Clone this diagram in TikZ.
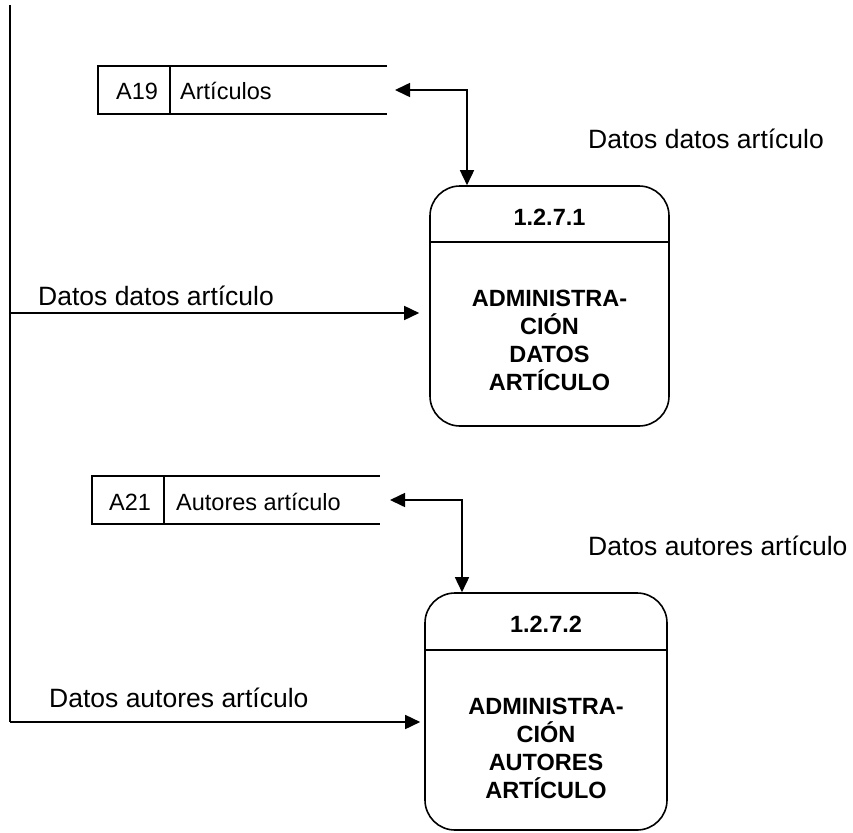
\documentclass[tikz,border=0pt]{standalone}
\usepackage{fontspec}
\setmainfont{Liberation Sans}
\usetikzlibrary{arrows.meta}

\begin{document}
\begin{tikzpicture}[x=1pt,y=-1pt,
  line/.style={line width=1.6pt,black},
  flow/.style={line,-{Triangle[length=15pt,width=14pt]}},
  bothflow/.style={line,{Triangle[length=15pt,width=14pt]}-{Triangle[length=15pt,width=14pt]}},
  procbox/.style={draw,line width=1.6pt,rounded corners=30pt,inner sep=0pt},
  procid/.style={font=\fontsize{23.5}{28}\selectfont\bfseries,inner sep=0pt,anchor=base},
  proctext/.style={font=\fontsize{23.5}{28}\selectfont\bfseries,align=center,inner sep=0pt},
  storetxt/.style={font=\fontsize{23.5}{28}\selectfont,inner sep=0pt,anchor=base},
  flowlbl/.style={font=\fontsize{26.5}{30}\selectfont,inner sep=0pt,anchor=base west}]

\useasboundingbox (0,0) rectangle (853,832);

% external side
\coordinate (top) at (10,5);
\coordinate (bot) at (10,722);
\draw[line] (top) -- (bot);

% store A19
\node[storetxt] (a19) at (137,100) {A19};
\node[storetxt,anchor=base west] (articulos) at (180,100) {Artículos};
\draw[line] (387,66) -| (98,114) -- (387,114);
\draw[line] (170,66) -- (170,114);
\coordinate (a19in) at (395,90);

% process 1.2.7.1
\node[procbox,minimum width=239pt,minimum height=240pt] (p1) at (549.5,306) {};
\draw[line] (p1.west |- 0,242) -- (p1.east |- 0,242);
\node[procid] (p1id) at (549.5,225) {1.2.7.1};
\node[proctext] (p1txt) at (549.5,340) {ADMINISTRA-\\CIÓN\\DATOS\\ARTÍCULO};

\draw[bothflow] (a19in) -| ([xshift=-82.5pt]p1.north);
\node[flowlbl] (r1) at (588,148) {Datos datos artículo};

\coordinate (f1) at (10,313);
\draw[flow,shorten >=10pt] (f1) -- (p1.west |- f1);
\node[flowlbl] (l1) at (38,305) {Datos datos artículo};

% store A21
\node[storetxt] (a21) at (130,510) {A21};
\node[storetxt,anchor=base west] (autores) at (176,510) {Autores artículo};
\draw[line] (380,476) -| (92,524) -- (380,524);
\draw[line] (164,476) -- (164,524);
\coordinate (a21in) at (390,500);

% process 1.2.7.2
\node[procbox,minimum width=242pt,minimum height=237pt] (p2) at (546,711.5) {};
\draw[line] (p2.west |- 0,650) -- (p2.east |- 0,650);
\node[procid] (p2id) at (546,632) {1.2.7.2};
\node[proctext] (p2txt) at (546,748.6) {ADMINISTRA-\\CIÓN\\AUTORES\\ARTÍCULO};

\draw[bothflow] (a21in) -| ([xshift=-84pt]p2.north);
\node[flowlbl] (r2) at (588,555) {Datos autores artículo};

\coordinate (f2) at (10,722);
\draw[flow,shorten >=4pt] (f2) -- (p2.west |- f2);
\node[flowlbl] (l2) at (49,707) {Datos autores artículo};

\end{tikzpicture}
\end{document}
